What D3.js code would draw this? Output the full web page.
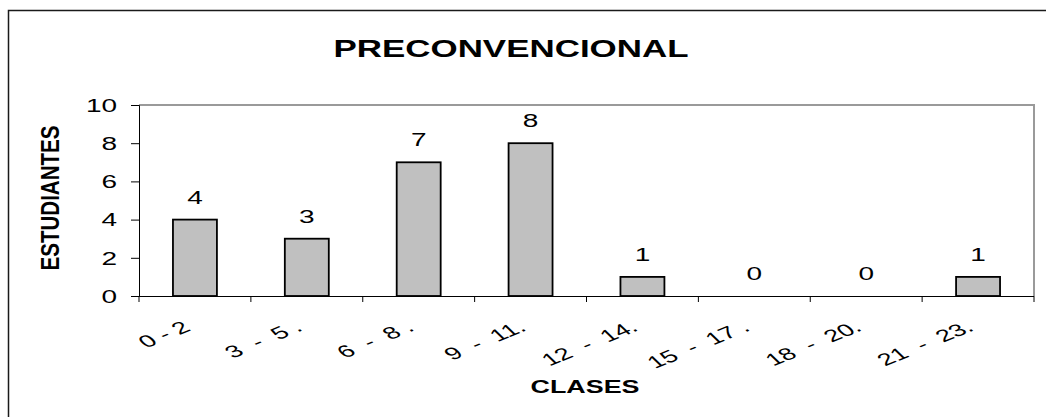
<!DOCTYPE html>
<html>
<head>
<meta charset="utf-8">
<script src="https://cdn.jsdelivr.net/npm/d3@7"></script>
<style>
  html, body { margin: 0; padding: 0; background: #fff; }
  svg { display: block; }
  text { font-family: "Liberation Sans", Arial, sans-serif; fill: #000; }
</style>
</head>
<body>
<svg id="chart" width="1046" height="417"></svg>
<script>
// Class intervals and number of students in each
const categories = ["0 - 2", "3  -  5 .", "6  -  8 .", "9  -  11.", "12  -  14.", "15  -  17 .", "18  -  20.", "21  -  23."];
const values = [4, 3, 7, 8, 1, 0, 0, 1];
const yTicks = [0, 2, 4, 6, 8, 10];
const titleText = "PRECONVENCIONAL";
const xTitle = "CLASES";
const yTitle = "ESTUDIANTES";

const svg = d3.select("#chart");
const SX = 1.6; // horizontal widening applied to the lettering

const plot = { left: 139, right: 1034, top: 105, bottom: 296 };

const x = d3.scaleBand()
  .domain(categories)
  .range([plot.left, plot.right])
  .paddingInner(0.607)
  .paddingOuter(0.3035);

const y = d3.scaleLinear()
  .domain([0, 10])
  .range([plot.bottom, plot.top]);

// outer chart frame
svg.append("rect")
  .attr("x", 8.5).attr("y", 10.5)
  .attr("width", 1100).attr("height", 500)
  .attr("fill", "none").attr("stroke", "#1a1a1a").attr("stroke-width", 1.5);

// plot area border (top and right)
svg.append("path")
  .attr("d", `M${plot.left},${plot.top}H${plot.right}V${plot.bottom}`)
  .attr("fill", "none").attr("stroke", "#9a9a9a").attr("stroke-width", 2);

// bars
svg.append("g").selectAll("rect")
  .data(values)
  .join("rect")
  .attr("x", (d, i) => x(categories[i]))
  .attr("y", d => y(d))
  .attr("width", x.bandwidth())
  .attr("height", d => y(0) - y(d))
  .attr("fill", "#c0c0c0")
  .attr("stroke", "#000")
  .attr("stroke-width", 1.8);

// value labels
svg.append("g").selectAll("text")
  .data(values)
  .join("text")
  .attr("transform", (d, i) => `translate(${x(categories[i]) + x.bandwidth() / 2},${y(d) - 16}) scale(${SX},1)`)
  .attr("text-anchor", "middle")
  .attr("font-size", 17.5)
  .text(d => d);

// y axis
const yAxis = d3.axisLeft(y).tickValues(yTicks).tickSize(8);
const gy = svg.append("g").attr("transform", `translate(${plot.left},0)`).call(yAxis);
gy.select(".domain").attr("stroke", "#000").attr("stroke-width", 1);
gy.selectAll(".tick line").attr("stroke", "#000");
gy.selectAll(".tick text")
  .attr("font-size", 17.5)
  .attr("font-family", "Liberation Sans, Arial, sans-serif")
  .attr("fill", "#000")
  .attr("text-anchor", "end")
  .attr("dy", "0.36em")
  .attr("x", null)
  .attr("transform", `translate(-22,0) scale(${SX},1)`);

// x axis: line, boundary ticks, rotated category labels
const gx = svg.append("g");
gx.append("line")
  .attr("x1", plot.left).attr("x2", plot.right)
  .attr("y1", plot.bottom + 0.5).attr("y2", plot.bottom + 0.5)
  .attr("stroke", "#000");
gx.selectAll("line.tick")
  .data(d3.range(categories.length + 1))
  .join("line")
  .attr("class", "tick")
  .attr("x1", i => plot.left + i * x.step()).attr("x2", i => plot.left + i * x.step())
  .attr("y1", plot.bottom).attr("y2", plot.bottom + 6)
  .attr("stroke", "#000");
gx.selectAll("text")
  .data(categories)
  .join("text")
  .attr("transform", d => `translate(${x(d) + x.bandwidth() / 2 - 3},330) scale(${SX},1) rotate(-33)`)
  .attr("text-anchor", "end")
  .attr("font-size", 17)
  .style("white-space", "pre")
  .text(d => d);

// titles
svg.append("text")
  .attr("x", 511).attr("y", 57)
  .attr("text-anchor", "middle")
  .attr("font-size", 23)
  .attr("font-weight", "bold")
  .attr("textLength", 355)
  .attr("lengthAdjust", "spacingAndGlyphs")
  .text(titleText);

svg.append("text")
  .attr("x", 585).attr("y", 393)
  .attr("text-anchor", "middle")
  .attr("font-size", 19)
  .attr("font-weight", "bold")
  .attr("textLength", 109)
  .attr("lengthAdjust", "spacingAndGlyphs")
  .text(xTitle);

svg.append("text")
  .attr("transform", `translate(59,198) scale(${SX},1) rotate(-90)`)
  .attr("text-anchor", "middle")
  .attr("font-size", 16)
  .attr("font-weight", "bold")
  .attr("textLength", 145)
  .attr("lengthAdjust", "spacingAndGlyphs")
  .text(yTitle);
</script>
</body>
</html>
